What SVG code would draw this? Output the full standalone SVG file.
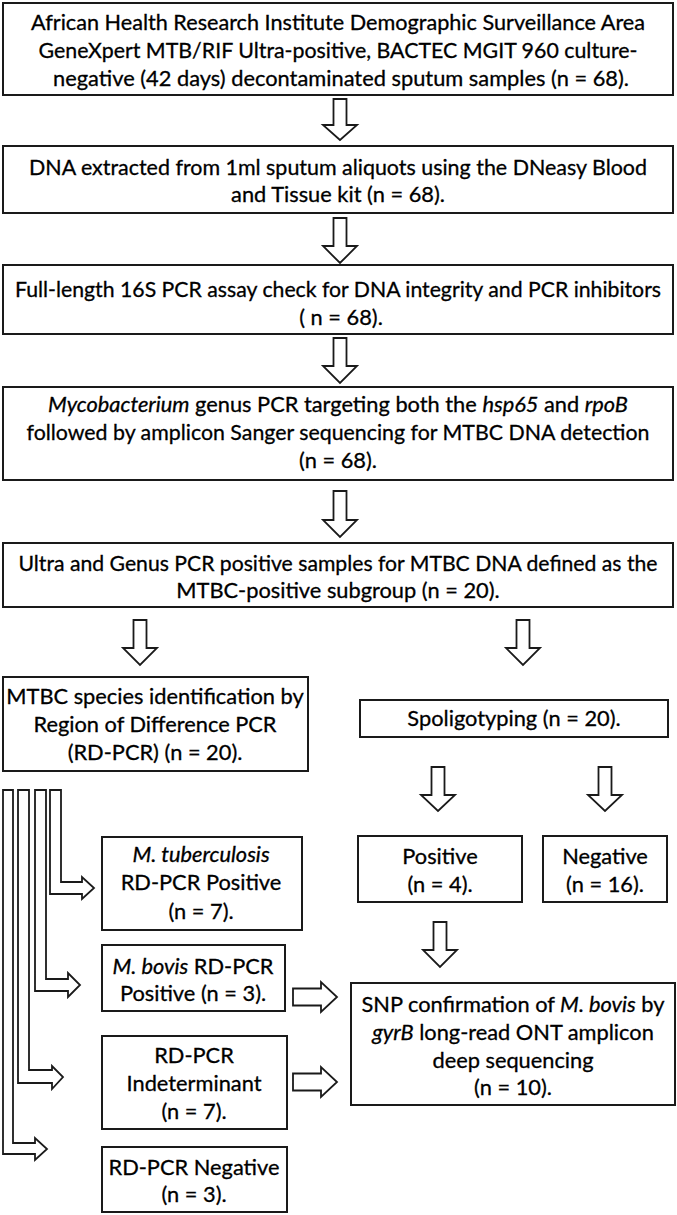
<svg xmlns="http://www.w3.org/2000/svg" width="677" height="1215" viewBox="0 0 677 1215">
<style>
  .box{fill:#fff;stroke:#1a1a1a;stroke-width:2}
  .arr{fill:#fff;stroke:#1a1a1a;stroke-width:1.8;stroke-linejoin:miter}
  text{font-family:Lato,"Open Sans","Liberation Sans",sans-serif;font-size:21.8px;fill:#000;stroke:#000;stroke-width:0.3}
  .c{text-anchor:middle}
  .i{font-style:italic}
</style>
<rect width="677" height="1215" fill="#fff"/>
<g id="connectors">
  <path class="arr" d="M333.5,99 H346.5 V125 H357 L340,140 L323,125 H333.5 Z"/>
  <path class="arr" d="M333.5,218 H346.5 V246 H357 L340,263 L323,246 H333.5 Z"/>
  <path class="arr" d="M333.5,338 H346.5 V366 H357 L340,383 L323,366 H333.5 Z"/>
  <path class="arr" d="M333.5,491 H346.5 V520 H357 L340,537 L323,520 H333.5 Z"/>
  <path class="arr" d="M133.5,620 H146.5 V648 H157 L140,665 L123,648 H133.5 Z"/>
  <path class="arr" d="M516.5,620 H529.5 V648 H540 L523,665 L506,648 H516.5 Z"/>
  <path class="arr" d="M431.5,767 H444.5 V795 H455 L438,811 L421,795 H431.5 Z"/>
  <path class="arr" d="M598.5,767 H611.5 V795 H622 L605,811 L588,795 H598.5 Z"/>
  <path class="arr" d="M433.5,922 H446.5 V950 H457 L440,967 L423,950 H433.5 Z"/>
  <path class="arr" d="M293,988.5 H321 V982 L337,997 L321,1012 V1005.5 H293 Z"/>
  <path class="arr" d="M293,1073.5 H321 V1067 L337,1082 L321,1097 V1090.5 H293 Z"/>
  <path class="arr" d="M50,790 H61 V882 H82 V877 L94,888 L82,899 V894 H50 Z"/>
  <path class="arr" d="M35,790 H46 V979 H68 V973 L80,985 L68,997 V991 H35 Z"/>
  <path class="arr" d="M18,790 H29 V1070 H52 V1066 L63,1077 L52,1089 V1083 H18 Z"/>
  <path class="arr" d="M3,790 H13 V1143 H35 V1138 L47,1149 L35,1160 V1154 H3 Z"/>
</g>
<g id="n1">
  <rect class="box" x="3" y="3" width="670" height="92"/>
  <text class="c" x="338" y="30" textLength="614" lengthAdjust="spacingAndGlyphs">African Health Research Institute Demographic Surveillance Area</text>
  <text class="c" x="338" y="58" textLength="599" lengthAdjust="spacingAndGlyphs">GeneXpert MTB/RIF Ultra-positive, BACTEC MGIT 960 culture-</text>
  <text class="c" x="341" y="86" textLength="576" lengthAdjust="spacingAndGlyphs">negative (42 days) decontaminated sputum samples (n = 68).</text>
</g>
<g id="n2">
  <rect class="box" x="3" y="146" width="670" height="67"/>
  <text class="c" x="338" y="175" textLength="618" lengthAdjust="spacingAndGlyphs">DNA extracted from 1ml sputum aliquots using the DNeasy Blood</text>
  <text class="c" x="338" y="202">and Tissue kit (n = 68).</text>
</g>
<g id="n3">
  <rect class="box" x="3" y="265" width="670" height="69"/>
  <text class="c" x="338" y="297" textLength="646" lengthAdjust="spacingAndGlyphs">Full-length 16S PCR assay check for DNA integrity and PCR inhibitors</text>
  <text class="c" x="341" y="325">( n = 68).</text>
</g>
<g id="n4">
  <rect class="box" x="3" y="387" width="670" height="93"/>
  <text class="c" x="338" y="412"><tspan class="i">Mycobacterium</tspan> genus PCR targeting both the <tspan class="i">hsp65</tspan> and <tspan class="i">rpoB</tspan></text>
  <text class="c" x="338" y="440" textLength="623" lengthAdjust="spacingAndGlyphs">followed by amplicon Sanger sequencing for MTBC DNA detection</text>
  <text class="c" x="338" y="468">(n = 68).</text>
</g>
<g id="n5">
  <rect class="box" x="3" y="543" width="670" height="64"/>
  <text class="c" x="338" y="571" textLength="639" lengthAdjust="spacingAndGlyphs">Ultra and Genus PCR positive samples for MTBC DNA defined as the</text>
  <text class="c" x="338" y="598">MTBC-positive subgroup (n = 20).</text>
</g>
<g id="n6">
  <rect class="box" x="3" y="677" width="305" height="94"/>
  <text class="c" x="155" y="704">MTBC species identification by</text>
  <text class="c" x="155" y="732">Region of Difference PCR</text>
  <text class="c" x="155" y="760">(RD-PCR) (n = 20).</text>
</g>
<g id="n7">
  <rect class="box" x="360" y="700" width="308" height="37"/>
  <text class="c" x="514" y="726">Spoligotyping (n = 20).</text>
</g>
<g id="n8">
  <rect class="box" x="358" y="836" width="164" height="66"/>
  <text class="c" x="440" y="864">Positive</text>
  <text class="c" x="440" y="892">(n = 4).</text>
</g>
<g id="n9">
  <rect class="box" x="543" y="836" width="124" height="66"/>
  <text class="c" x="605" y="864">Negative</text>
  <text class="c" x="605" y="892">(n = 16).</text>
</g>
<g id="n10">
  <rect class="box" x="102" y="837" width="200" height="93"/>
  <text class="c" x="201" y="862" font-style="italic">M. tuberculosis</text>
  <text class="c" x="201" y="890">RD-PCR Positive</text>
  <text class="c" x="201" y="919">(n = 7).</text>
</g>
<g id="n11">
  <rect class="box" x="102" y="945" width="183" height="66"/>
  <text class="c" x="193" y="974"><tspan class="i">M. bovis</tspan> RD-PCR</text>
  <text class="c" x="193" y="1001">Positive (n = 3).</text>
</g>
<g id="n12">
  <rect class="box" x="102" y="1036" width="185" height="93"/>
  <text class="c" x="194" y="1063">RD-PCR</text>
  <text class="c" x="194" y="1091">Indeterminant</text>
  <text class="c" x="194" y="1119">(n = 7).</text>
</g>
<g id="n13">
  <rect class="box" x="102" y="1147" width="185" height="65"/>
  <text class="c" x="194" y="1175">RD-PCR Negative</text>
  <text class="c" x="194" y="1202">(n = 3).</text>
</g>
<g id="n14">
  <rect class="box" x="351" y="983" width="324" height="122"/>
  <text class="c" x="513" y="1012">SNP confirmation of <tspan class="i">M. bovis</tspan> by</text>
  <text class="c" x="513" y="1040"><tspan class="i">gyrB</tspan> long-read ONT amplicon</text>
  <text class="c" x="513" y="1068">deep sequencing</text>
  <text class="c" x="513" y="1095">(n = 10).</text>
</g>
</svg>
